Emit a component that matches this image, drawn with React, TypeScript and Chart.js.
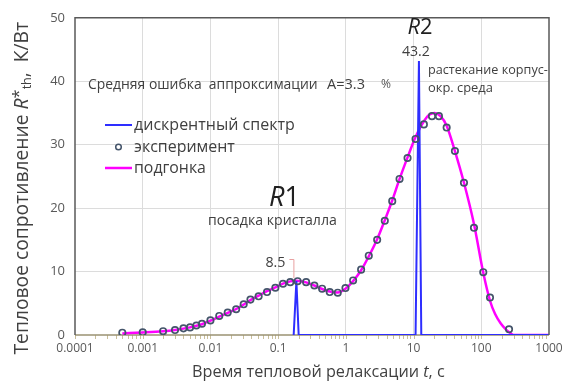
import React, { useEffect, useRef } from "react";
import { Chart, registerables } from "chart.js";

Chart.register(...registerables);

// ---- data ----
const expT = [0.0005, 0.001, 0.002, 0.003, 0.004, 0.005, 0.0062, 0.0075, 0.01, 0.0135, 0.018, 0.024, 0.031, 0.039, 0.0515, 0.0685, 0.091, 0.118, 0.151, 0.194, 0.259, 0.343, 0.446, 0.578, 0.759, 0.987, 1.28, 1.68, 2.18, 2.9, 3.76, 4.84, 6.21, 8.15, 10.7, 14.2, 18.7, 23.7, 30.8, 40.8, 55.5, 78, 107, 134.5, 257];
const expR = [0.36, 0.42, 0.6, 0.78, 1.05, 1.2, 1.5, 1.77, 2.3, 3.0, 3.55, 4.06, 4.84, 5.58, 6.1, 6.77, 7.45, 8.08, 8.33, 8.48, 8.33, 7.8, 7.3, 6.77, 6.67, 7.4, 8.6, 10.3, 12.5, 15.0, 18.0, 21.1, 24.6, 27.9, 30.9, 33.2, 34.5, 34.5, 32.7, 29.0, 24.0, 16.9, 9.9, 5.9, 0.9];

const fitT = [0.0005, 0.001, 0.002, 0.003, 0.005, 0.0075, 0.01, 0.0135, 0.018, 0.024, 0.031, 0.039, 0.0515, 0.0685, 0.091, 0.118, 0.151, 0.186, 0.259, 0.343, 0.446, 0.578, 0.759, 0.987, 1.28, 1.68, 2.18, 2.9, 3.76, 4.84, 6.21, 8.15, 10.7, 14.2, 17, 20.5, 25, 30.8, 40.8, 55.5, 78, 107, 134.5, 160, 194, 230, 265, 300, 1000];
const fitR = [0.25, 0.4, 0.6, 0.8, 1.2, 1.7, 2.25, 2.9, 3.5, 4.1, 4.8, 5.5, 6.2, 6.9, 7.5, 8.1, 8.45, 8.55, 8.3, 7.8, 7.25, 6.85, 6.7, 7.3, 8.5, 10.2, 12.4, 15.1, 18.1, 21.2, 24.6, 28.0, 31.2, 33.7, 34.7, 35.0, 34.5, 33.0, 29.0, 24.0, 17.5, 9.8, 5.4, 3.3, 1.8, 0.9, 0.35, 0, 0];

const specT = [0.1696, 0.186, 0.201, 10.7, 12.0, 13.0, 1000];
const specR = [0, 8.5, 0, 0, 43.2, 0, 0];

const xTickValues = [0.0001, 0.001, 0.01, 0.1, 1, 10, 100, 1000];
const xTickLabels = ["0.0001", "0.001", "0.01", "0.1", "1", "10", "100", "1000"];
const yTickValues = [0, 10, 20, 30, 40, 50];

const seriesNames = ["дискрентный спектр", "эксперимент", "подгонка"];
const peakLabels = ["8.5", "43.2"];

const FONT = "'Open Sans', 'Noto Sans', sans-serif";
const BLUE = "#2e2eff";
const MAGENTA = "#ff00ff";
const PT = "#44546a";
const TXT = "#404040";

type Run = { t: string; style?: string; scale?: number; dy?: number };

function drawRuns(ctx: CanvasRenderingContext2D, runs: Run[], x: number, y: number, width: number, align: "left" | "center", color: string) {
  const base = 20;
  let total = 0;
  for (const r of runs) {
    ctx.font = `${r.style || ""} ${base * (r.scale || 1)}px ${FONT}`;
    total += ctx.measureText(r.t).width;
  }
  const k = width / total;
  let cx = align === "center" ? x - width / 2 : x;
  ctx.fillStyle = color;
  ctx.textAlign = "left";
  ctx.textBaseline = "middle";
  for (const r of runs) {
    ctx.font = `${r.style || ""} ${base * k * (r.scale || 1)}px ${FONT}`;
    ctx.fillText(r.t, cx, y + (r.dy || 0) * base * k);
    cx += ctx.measureText(r.t).width;
  }
}

const overlay = {
  id: "overlay",
  beforeDatasetsDraw(chart: any) {
    const { ctx, chartArea: a, scales } = chart;
    const xs = scales.x;
    ctx.save();
    ctx.strokeStyle = "#c9bf9c";
    ctx.lineWidth = 1;
    for (let e = -4; e < 3; e++) {
      for (let m = 1; m <= 9; m++) {
        const px = Math.round(xs.getPixelForValue(m * Math.pow(10, e))) + 0.5;
        ctx.beginPath();
        ctx.moveTo(px, a.bottom);
        ctx.lineTo(px, a.bottom + 4);
        ctx.stroke();
      }
    }
    ctx.strokeStyle = "#9a9272";
    ctx.lineWidth = 1.5;
    ctx.beginPath();
    ctx.moveTo(a.left, a.bottom);
    ctx.lineTo(a.right, a.bottom);
    ctx.stroke();
    ctx.restore();
  },
  afterDraw(chart: any) {
    const { ctx, chartArea: a, scales } = chart;
    const xs = scales.x;
    const ys = scales.y;
    ctx.save();
    // frame
    ctx.strokeStyle = "#595959";
    ctx.lineWidth = 1.5;
    ctx.beginPath();
    ctx.moveTo(a.left, a.bottom);
    ctx.lineTo(a.left, a.top);
    ctx.lineTo(a.right, a.top);
    ctx.lineTo(a.right, a.bottom);
    ctx.stroke();

    // legend
    const lx = 105, lw = 27, tx = 134;
    const rows = [125, 147, 168];
    ctx.lineWidth = 2;
    ctx.strokeStyle = BLUE;
    ctx.beginPath(); ctx.moveTo(lx, rows[0]); ctx.lineTo(lx + lw, rows[0]); ctx.stroke();
    ctx.strokeStyle = PT;
    ctx.lineWidth = 1.5;
    ctx.beginPath(); ctx.arc(lx + lw / 2, rows[1], 2.8, 0, Math.PI * 2); ctx.stroke();
    ctx.strokeStyle = MAGENTA;
    ctx.lineWidth = 2.5;
    ctx.beginPath(); ctx.moveTo(lx, rows[2]); ctx.lineTo(lx + lw, rows[2]); ctx.stroke();
    drawRuns(ctx, [{ t: seriesNames[0] }], tx, rows[0], 161, "left", TXT);
    drawRuns(ctx, [{ t: seriesNames[1] }], tx, rows[1], 101, "left", TXT);
    drawRuns(ctx, [{ t: seriesNames[2] }], tx, rows[2], 72, "left", TXT);

    // error text
    drawRuns(ctx, [{ t: "Средняя ошибка  аппроксимации" }], 88, 85, 230, "left", TXT);
    drawRuns(ctx, [{ t: "A=3.3" }], 327, 85, 38, "left", TXT);
    drawRuns(ctx, [{ t: "%" }], 381, 85, 10, "left", "#595959");

    // R1 annotations
    const p1x = xs.getPixelForValue(specT[1]);
    const p1y = ys.getPixelForValue(specR[1]);
    drawRuns(ctx, [{ t: "R", style: "italic" }, { t: "1" }], p1x - 12, 198, 31, "center", "#202020");
    drawRuns(ctx, [{ t: "посадка кристалла" }], 208, 221, 129, "left", TXT);
    drawRuns(ctx, [{ t: peakLabels[0] }], p1x - 21, 263, 20, "center", TXT);
    ctx.strokeStyle = "#e8a0a0";
    ctx.lineWidth = 1;
    ctx.beginPath();
    ctx.moveTo(p1x - 7, 259.5);
    ctx.lineTo(p1x - 2.5, 259.5);
    ctx.lineTo(p1x - 2.5, p1y - 3);
    ctx.stroke();

    // R2 annotations
    const p2x = xs.getPixelForValue(specT[4]);
    const p2y = ys.getPixelForValue(specR[4]);
    drawRuns(ctx, [{ t: "R", style: "italic" }, { t: "2" }], p2x + 1, 28, 25, "center", "#202020");
    drawRuns(ctx, [{ t: peakLabels[1] }], p2x - 3, p2y - 9, 28, "center", TXT);
    drawRuns(ctx, [{ t: "растекание корпус-" }], 428, 70, 120, "left", TXT);
    drawRuns(ctx, [{ t: "окр. среда" }], 428, 88, 65, "left", TXT);

    // axis titles
    drawRuns(ctx, [{ t: "Время тепловой релаксации " }, { t: "t", style: "italic" }, { t: ", с" }], 318.5, 372, 253, "center", TXT);
    ctx.save();
    ctx.translate(23, 188);
    ctx.rotate(-Math.PI / 2);
    drawRuns(ctx, [
      { t: "Тепловое сопротивление " },
      { t: "R", style: "italic" },
      { t: "*", scale: 0.85, dy: -0.2 },
      { t: "th", scale: 0.65, dy: 0.25 },
      { t: ",  К/Вт" },
    ], 0, 0, 333, "center", TXT);
    ctx.restore();

    ctx.restore();
  },
};

export default function App() {
  const ref = useRef<HTMLCanvasElement | null>(null);
  useEffect(() => {
    if (!ref.current) return;
    const chart = new Chart(ref.current, {
      type: "line",
      data: {
        datasets: [
          {
            label: seriesNames[1],
            data: expT.map((t, i) => ({ x: t, y: expR[i] })),
            showLine: false,
            pointRadius: 3.2,
            pointBorderWidth: 1.7,
            pointBorderColor: PT,
            pointBackgroundColor: "rgba(0,0,0,0)",
            borderColor: PT,
            order: 0,
          },
          {
            label: seriesNames[0],
            data: specT.map((t, i) => ({ x: t, y: specR[i] })),
            borderColor: BLUE,
            borderWidth: 2,
            pointRadius: 0,
            tension: 0,
            order: 1,
          },
          {
            label: seriesNames[2],
            data: fitT.map((t, i) => ({ x: t, y: fitR[i] })),
            borderColor: MAGENTA,
            borderWidth: 2.5,
            pointRadius: 0,
            cubicInterpolationMode: "monotone",
            order: 2,
          },
        ],
      },
      options: {
        animation: false,
        responsive: true,
        maintainAspectRatio: false,
        layout: { padding: { top: 15, right: 23, left: 0, bottom: 0 } },
        plugins: { legend: { display: false }, tooltip: { enabled: false } },
        scales: {
          x: {
            type: "logarithmic",
            min: 0.0001,
            max: 1000,
            afterBuildTicks: (s: any) => {
              s.ticks = xTickValues.map((v) => ({ value: v }));
            },
            afterFit: (s: any) => {
              s.height = 46;
            },
            ticks: {
              autoSkip: false,
              maxRotation: 0,
              padding: 6,
              color: "#595959",
              font: { family: FONT, size: 12 },
              callback: (_v: any, i: number) => xTickLabels[i],
            },
            grid: {
              drawTicks: false,
              color: (c: any) => (c.tick && (c.tick.value === 0.0001 || c.tick.value === 1000) ? "rgba(0,0,0,0)" : "#dcdcdc"),
              lineWidth: 1,
            },
            border: { display: false },
          },
          y: {
            type: "linear",
            min: 0,
            max: 50,
            afterBuildTicks: (s: any) => {
              s.ticks = yTickValues.map((v) => ({ value: v }));
            },
            afterFit: (s: any) => {
              s.width = 75;
            },
            ticks: {
              padding: 10,
              color: "#595959",
              font: { family: FONT, size: 13 },
              callback: (v: any) => String(v),
            },
            grid: {
              drawTicks: false,
              color: (c: any) => (c.tick && (c.tick.value === 0 || c.tick.value === 50) ? "rgba(0,0,0,0)" : "#dcdcdc"),
              lineWidth: 1,
            },
            border: { display: false },
          },
        },
      },
      plugins: [overlay],
    } as any);
    return () => chart.destroy();
  }, []);
  return (
    <div style={{ position: "fixed", left: 0, top: 0, width: 572, height: 381, background: "#fff" }}>
      <canvas ref={ref} />
    </div>
  );
}
